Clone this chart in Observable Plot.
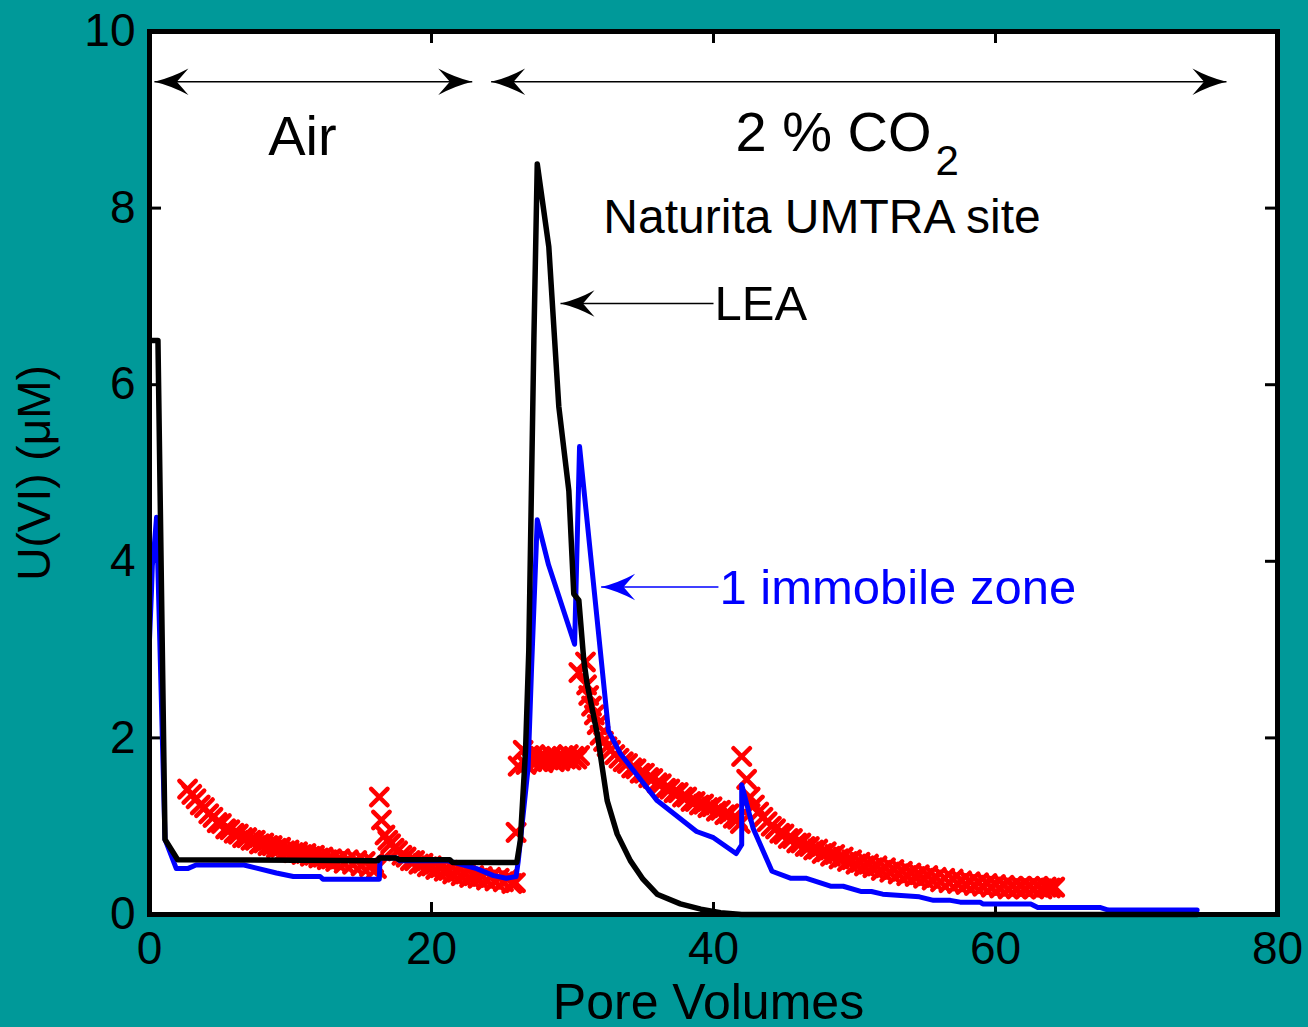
<!DOCTYPE html>
<html><head><meta charset="utf-8">
<script src="https://cdn.jsdelivr.net/npm/d3@7"></script>
<script src="https://cdn.jsdelivr.net/npm/@observablehq/plot@0.6"></script>
<style>html,body{margin:0;padding:0;background:#009999;overflow:hidden;}</style>
</head><body><div id="chart"></div>
<script>
// ---- tick values ----
const xTicks = [0, 20, 40, 60, 80];
const yTicks = [0, 2, 4, 6, 8, 10];

// ---- LEA model (black line) ----
const leaPV = [0.1, 0.6, 1.1, 2.0, 16.2, 16.3, 17.5, 17.7, 21.3, 21.5, 26.05, 26.3, 26.67, 26.9, 27.26, 27.5, 28.32, 29.03, 29.74, 30.09, 30.45, 30.8, 31.04, 31.75, 32.46, 33.17, 34.1, 35.0, 36.0, 37.65, 39.1, 40.5, 42.0, 74.3];
const leaU  = [6.5, 6.5, 0.85, 0.62, 0.61, 0.64, 0.64, 0.62, 0.62, 0.59, 0.59, 0.84, 1.86, 2.99, 6.5, 8.5, 7.56, 5.75, 4.8, 3.63, 3.56, 2.88, 2.61, 2.05, 1.29, 0.91, 0.61, 0.4, 0.23, 0.12, 0.06, 0.02, 0.0, 0.0];

// ---- 1 immobile zone model (blue line) ----
const immPV = [0.0, 0.15, 0.2, 0.35, 0.5, 1.1, 1.9, 2.7, 3.3, 6.7, 9.0, 10.2, 12.1, 12.3, 16.3, 16.35, 17.5, 17.75, 21.1, 23.2, 24.4, 25.3, 26.0, 26.15, 26.85, 27.1, 27.5, 28.3, 30.15, 30.5, 32.55, 33.4, 36.0, 37.2, 38.8, 40.0, 41.6, 42.0, 42.0, 42.8, 44.15, 45.5, 46.6, 48.3, 49.2, 50.5, 51.2, 52.0, 54.6, 55.6, 56.8, 57.5, 58.9, 59.1, 62.5, 63.0, 67.4, 68.0, 74.3];
const immU  = [3.11, 3.7, 3.95, 4.2, 4.5, 0.85, 0.52, 0.52, 0.56, 0.56, 0.47, 0.43, 0.43, 0.40, 0.40, 0.64, 0.64, 0.61, 0.61, 0.52, 0.44, 0.41, 0.43, 0.6, 1.66, 2.8, 4.47, 3.96, 3.06, 5.3, 2.08, 1.82, 1.29, 1.14, 0.94, 0.87, 0.69, 0.79, 1.47, 0.98, 0.49, 0.41, 0.41, 0.32, 0.32, 0.26, 0.26, 0.23, 0.2, 0.16, 0.16, 0.14, 0.14, 0.12, 0.12, 0.08, 0.08, 0.05, 0.05];

// ---- measured U(VI) (red x markers) ----
const obsPV = [
  2.7,3.0,3.3,3.6,3.9,4.2,4.5,4.8,5.1,5.4,5.7,6.0,6.3,6.6,6.9,7.2,7.5,7.8,8.1,8.4,8.7,9.0,9.3,9.6,9.9,10.2,10.5,10.8,11.1,11.4,11.7,12.0,12.3,12.6,12.9,13.2,13.5,13.8,14.1,14.4,14.7,15.0,15.3,15.6,15.9,16.1,
  16.3,16.45,16.7,16.9,17.1,17.35,17.6,17.9,18.2,18.5,18.8,19.1,19.4,19.7,20.0,20.3,20.6,20.9,21.2,21.5,21.8,22.1,22.4,22.7,23.0,23.3,23.6,23.9,24.2,24.5,24.8,25.1,25.4,25.7,25.95,
  26.0,26.15,26.5,26.7,26.9,27.1,27.3,27.5,27.7,27.9,28.1,28.3,28.5,28.7,28.9,29.1,29.3,29.5,29.7,29.9,30.1,30.3,30.5,
  30.45,30.92,31.0,31.15,31.35,31.55,31.75,31.95,32.2,32.45,32.7,33.0,33.3,33.6,33.9,34.2,34.5,34.8,35.1,35.4,35.7,36.0,36.3,36.6,36.9,37.2,37.5,37.8,38.1,38.4,38.7,39.0,39.3,39.6,39.9,40.2,40.5,40.8,41.1,41.4,41.7,41.9,
  42.0,42.35,42.6,42.9,43.2,43.5,43.8,44.1,44.4,44.7,45.0,45.3,45.6,45.9,46.2,46.5,46.8,47.1,47.4,47.7,48.0,48.3,48.6,48.9,49.2,49.5,49.8,50.1,50.4,50.7,51.0,51.3,51.6,51.9,52.2,52.5,52.8,53.1,53.4,53.7,54.0,54.3,54.6,54.9,55.2,55.5,55.8,56.1,56.4,56.7,57.0,57.3,57.6,57.9,58.2,58.5,58.8,59.1,59.4,59.7,60.0,60.3,60.6,60.9,61.2,61.5,61.8,62.1,62.4,62.7,63.0,63.3,63.6,63.9,64.2
];
const obsU = [
  1.42,1.36,1.31,1.24,1.21,1.14,1.10,1.04,1.03,0.97,0.96,0.92,0.91,0.87,0.87,0.84,0.84,0.80,0.81,0.78,0.78,0.75,0.76,0.72,0.73,0.70,0.71,0.68,0.69,0.66,0.67,0.64,0.65,0.62,0.63,0.60,0.63,0.58,0.62,0.57,0.61,0.55,0.60,0.54,0.58,0.52,
  1.33,1.07,0.90,0.84,0.80,0.75,0.72,0.67,0.65,0.61,0.61,0.57,0.58,0.54,0.55,0.51,0.53,0.49,0.50,0.46,0.48,0.44,0.46,0.42,0.44,0.41,0.43,0.39,0.42,0.38,0.41,0.37,0.40,0.35,0.36,
  0.93,1.68,1.86,1.70,1.80,1.73,1.81,1.74,1.79,1.72,1.78,1.75,1.80,1.73,1.78,1.74,1.79,1.76,1.81,1.75,1.79,1.76,1.80,
  2.74,2.86,2.60,2.48,2.36,2.26,2.15,2.03,1.96,1.90,1.86,1.81,1.77,1.73,1.71,1.66,1.65,1.60,1.60,1.55,1.54,1.49,1.48,1.43,1.42,1.38,1.38,1.33,1.33,1.28,1.28,1.24,1.25,1.21,1.22,1.17,1.18,1.13,1.14,1.09,1.08,1.03,
  1.79,1.53,1.33,1.24,1.16,1.10,1.05,1.00,0.97,0.92,0.91,0.86,0.86,0.81,0.81,0.77,0.77,0.73,0.74,0.69,0.71,0.66,0.68,0.63,0.65,0.60,0.62,0.57,0.59,0.55,0.57,0.53,0.55,0.50,0.53,0.48,0.51,0.46,0.49,0.44,0.47,0.43,0.45,0.41,0.44,0.39,0.42,0.37,0.41,0.36,0.40,0.35,0.38,0.34,0.37,0.33,0.36,0.32,0.35,0.31,0.34,0.30,0.33,0.29,0.32,0.29,0.32,0.29,0.32,0.29,0.32,0.29,0.31,0.30,0.31
];

// ---- annotations ----
const spanLabels = ["Air", "CO2"];
const spanStart = [0.35, 24.23];
const spanEnd   = [22.89, 76.38];
const spanU     = [9.43, 9.43];
const calloutLabels = ["LEA", "1 immobile zone"];
const calloutTipPV  = [29.15, 32.03];
const calloutEndPV  = [40.0, 40.35];
const calloutU      = [6.92, 3.71];
const calloutTextU  = [6.73, 3.52];
const calloutColor  = ["black", "blue"];

// ---- build tables ----
const lea = leaPV.map((x, i) => ({x, y: leaU[i]}));
const imm = immPV.map((x, i) => ({x, y: immU[i]}));
const obs = obsPV.map((x, i) => ({x, y: obsU[i]}));
const spans = spanStart.map((s, i) => ({x1: s, x2: spanEnd[i], y: spanU[i]}));
const callouts = calloutTipPV.map((t, i) => ({x1: t, x2: calloutEndPV[i], y: calloutU[i], ty: calloutTextU[i], color: calloutColor[i], label: calloutLabels[i]}));
const heads = [
  ...spans.flatMap(s => [{x: s.x1, y: s.y, rot: 180, color: "black"}, {x: s.x2, y: s.y, rot: 0, color: "black"}]),
  ...callouts.map(c => ({x: c.x1, y: c.y, rot: 180, color: c.color}))
];

// stealth arrowhead pointing right, tip at origin; length = r
const stealth = {
  draw(ctx, size) {
    const L = Math.sqrt(size / Math.PI);
    const h = 0.39 * L;
    ctx.moveTo(0, 0);
    ctx.quadraticCurveTo(-0.5 * L, -0.12 * L, -L, -h);
    ctx.lineTo(-0.66 * L, 0);
    ctx.lineTo(-L, h);
    ctx.quadraticCurveTo(-0.5 * L, 0.12 * L, 0, 0);
    ctx.closePath();
  }
};

const W = 1308, H = 1027;
const mL = 149, mR = 31, mT = 31, mB = 113;
const iW = W - mL - mR, iH = H - mT - mB;
const tickLen = 12;

const chart = Plot.plot({
  width: W, height: H,
  marginLeft: mL, marginRight: mR, marginTop: mT, marginBottom: mB,
  style: {background: "#009999", fontFamily: "'Liberation Sans', Arial, sans-serif", fontSize: "46px", color: "black", overflow: "visible"},
  x: {domain: [0, 80]},
  y: {domain: [0, 10]},
  marks: [
    Plot.frame({fill: "white", stroke: "none"}),
    Plot.axisX({ticks: xTicks, tickSize: 0, tickPadding: 17, tickFormat: d => String(d), label: null}),
    Plot.axisY({ticks: yTicks, tickSize: 0, tickPadding: 14, tickFormat: d => String(d), label: "U(VI) (μM)", labelAnchor: "center", labelOffset: 132, labelArrow: "none"}),
    Plot.text(["Pore Volumes"], {frameAnchor: "bottom", dx: -5, dy: 104, text: d => d, fontSize: 50, lineAnchor: "bottom", fill: "black"}),
    // inward ticks on all four sides
    Plot.tickY(yTicks, {y: d => d, stroke: "black", strokeWidth: 3, insetRight: iW - tickLen}),
    Plot.tickY(yTicks, {y: d => d, stroke: "black", strokeWidth: 3, insetLeft: iW - tickLen}),
    Plot.tickX(xTicks, {x: d => d, stroke: "black", strokeWidth: 3, insetTop: iH - tickLen}),
    Plot.tickX(xTicks, {x: d => d, stroke: "black", strokeWidth: 3, insetBottom: iH - tickLen}),
    // data
    Plot.dot(obs, {x: "x", y: "y", symbol: "times", r: 7.5, stroke: "red", strokeWidth: 4.5, strokeLinecap: "round"}),
    Plot.line(imm, {x: "x", y: "y", stroke: "blue", strokeWidth: 5, strokeLinejoin: "round"}),
    Plot.line(lea, {x: "x", y: "y", stroke: "black", strokeWidth: 5.5, strokeLinejoin: "round"}),
    // annotation arrows
    Plot.link(spans, {x1: "x1", x2: "x2", y1: "y", y2: "y", stroke: "black", strokeWidth: 1.5}),
    Plot.link(callouts, {x1: "x1", x2: "x2", y1: "y", y2: "y", stroke: "color", strokeWidth: 1.5}),
    Plot.dot(heads, {x: "x", y: "y", symbol: stealth, r: 34, rotate: "rot", fill: "color", stroke: "none"}),
    // annotation text
    Plot.text([spanLabels[0]], {x: 10.85, y: 8.60, text: d => d, fontSize: 56, lineAnchor: "bottom", textAnchor: "middle", fill: "black"}),
    Plot.text(["2 % CO"], {x: 41.56, y: 8.65, text: d => d, fontSize: 56, lineAnchor: "bottom", textAnchor: "start", fill: "black"}),
    Plot.text(["2"], {x: 55.74, y: 8.37, text: d => d, fontSize: 42, lineAnchor: "bottom", textAnchor: "start", fill: "black"}),
    Plot.text(["Naturita UMTRA site"], {x: 47.7, y: 7.72, text: d => d, fontSize: 48, lineAnchor: "bottom", textAnchor: "middle", fill: "black"}),
    Plot.text(callouts, {x: d => d.x2 + 0.07, y: "ty", text: "label", fill: "color", fontSize: 49, lineAnchor: "bottom", textAnchor: "start"}),
    Plot.frame({stroke: "black", strokeWidth: 5, fill: "none"})
  ]
});
document.getElementById("chart").appendChild(chart);
</script>
</body></html>
